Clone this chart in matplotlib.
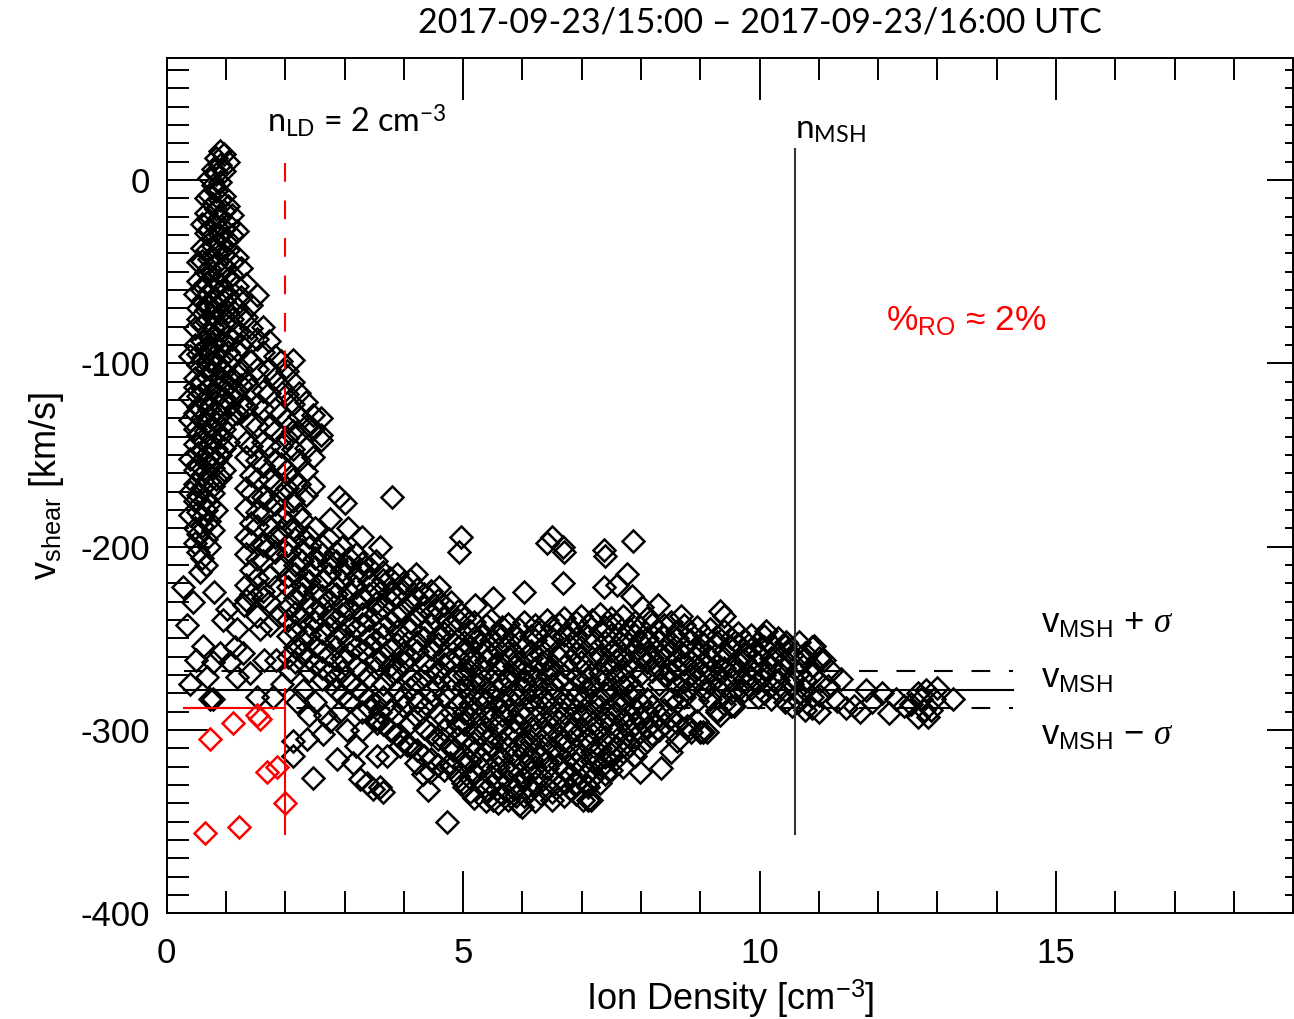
import matplotlib
matplotlib.use("Agg")
import matplotlib.pyplot as plt
from matplotlib.ticker import MultipleLocator

plt.rcParams['font.family'] = ['Liberation Sans', 'DejaVu Sans']
plt.rcParams['mathtext.fontset'] = 'custom'
plt.rcParams['mathtext.rm'] = 'Liberation Sans'
plt.rcParams['mathtext.it'] = 'Liberation Serif:italic'
plt.rcParams['axes.unicode_minus'] = False

# ---- data: (density, [v_shear values]) columns of the dense parts ----
spike_cols = [
    (0.4, [-96, -119, -131, -152, -170, -183]),
    (0.47, [-62, -81, -90, -108, -113, -127, -136, -144, -158, -166, -175, -190, -198]),
    (0.53, [-45, -55, -70, -76, -95, -101, -118, -124, -139, -149, -155, -172, -181, -193, -203]),
    (0.6, [-24, -37, -44, -60, -66, -79, -88, -97, -110, -116, -130, -142, -148, -161, -168, -184, -189, -206]),
    (0.66, [-10, -18, -29, -39, -50, -56, -71, -77, -91, -103, -107, -121, -133, -137, -154, -159, -174, -180, -196, -210]),
    (0.72, [1, -8, -22, -27, -43, -48, -62, -68, -84, -93, -99, -113, -125, -129, -145, -151, -164, -177, -186, -200]),
    (0.78, [6, -3, -13, -32, -36, -53, -59, -74, -80, -89, -105, -111, -120, -135, -141, -157, -167, -171, -191]),
    (0.84, [12, 3, -6, -16, -25, -40, -46, -65, -69, -86, -95, -101, -116, -126, -132, -147, -153, -163, -180]),
    (0.9, [16, 8, -1, -11, -20, -30, -35, -51, -57, -73, -82, -92, -98, -109, -123, -128, -140, -150, -162]),
    (0.96, [14, 5, -9, -17, -27, -41, -47, -61, -66, -78, -89, -104, -114, -119, -136, -146, -158]),
    (1.03, [10, -14, -24, -33, -38, -54, -63, -72, -85, -94, -100, -112, -124, -131, -143]),
    (1.1, [-19, -30, -45, -52, -67, -76, -87, -97, -108, -118, -128]),
    (1.18, [-28, -42, -58, -70, -83, -93, -106, -115, -127]),
    (1.26, [-48, -64, -74, -90, -103, -112, -123]),
]

branch_cols = [
    (1.34, [-57, -75, -86, -110, -124, -143, -151, -168, -179, -195, -204, -221, -229]),
    (1.43, [-68, -81, -99, -114, -133, -145, -161, -171, -187, -197, -213, -226]),
    (1.53, [-63, -87, -103, -123, -134, -153, -163, -181, -189, -207, -217, -238]),
    (1.62, [-80, -94, -115, -125, -143, -156, -173, -182, -199, -208, -224]),
    (1.72, [-88, -103, -116, -135, -145, -163, -174, -189, -200, -216, -230]),
    (1.82, [-96, -108, -125, -137, -153, -166, -177, -195, -203, -222]),
    (1.92, [-99, -113, -127, -145, -155, -172, -184, -192, -210]),
    (2.03, [-104, -117, -131, -141, -159, -168, -181, -199]),
    (2.13, [-98, -110, -122, -137, -147, -163, -175, -190]),
    (2.24, [-116, -129, -138, -153, -166, -182]),
    (2.35, [-121, -134, -146, -159, -172]),
    (2.47, [-128, -136, -151, -167]),
    (2.6, [-130, -142]),
]

band_cols = [
    (2.05, [-187, -199, -204, -216, -222, -233, -240, -249]),
    (2.17, [-191, -196, -210, -215, -228, -236, -246, -255, -263]),
    (2.28, [-185, -202, -208, -221, -226, -239, -251, -258]),
    (2.4, [-195, -200, -214, -219, -231, -243, -248, -261, -268]),
    (2.5, [-190, -206, -211, -224, -235, -241, -254, -264]),
    (2.62, [-199, -204, -218, -227, -233, -247, -257, -266, -272]),
    (2.73, [-196, -209, -215, -229, -238, -244, -259, -269]),
    (2.85, [-203, -208, -222, -226, -240, -250, -255, -271, -278]),
    (2.96, [-200, -213, -219, -232, -237, -247, -261, -268, -281]),
    (3.08, [-206, -211, -225, -234, -243, -252, -258, -274, -284]),
    (3.19, [-204, -216, -222, -230, -245, -255, -265, -277]),
    (3.3, [-209, -214, -228, -237, -242, -257, -268, -280, -290]),
    (3.42, [-211, -219, -226, -240, -249, -254, -271, -283, -288]),
    (3.53, [-208, -223, -231, -236, -251, -262, -266, -286, -294]),
    (3.65, [-214, -218, -233, -244, -248, -260, -275, -282, -297]),
    (3.76, [-217, -225, -229, -241, -256, -265, -270, -289, -300]),
    (3.88, [-215, -227, -238, -246, -253, -268, -279, -292, -303]),
    (3.99, [-220, -224, -235, -249, -258, -263, -282, -287, -306]),
    (4.11, [-218, -230, -241, -245, -260, -271, -277, -296, -309]),
    (4.22, [-223, -228, -238, -252, -257, -274, -285, -293, -311]),
    (4.34, [-226, -233, -246, -250, -263, -270, -288, -299, -314]),
    (4.45, [-224, -236, -243, -256, -266, -279, -284, -302, -316]),
    (4.57, [-229, -234, -249, -253, -269, -276, -291, -305, -319]),
    (4.68, [-232, -239, -247, -259, -264, -281, -294, -300, -322]),
    (4.8, [-230, -242, -251, -262, -272, -278, -290, -308, -320]),
    (4.91, [-235, -240, -255, -260, -270, -286, -297, -304, -325]),
]

core_cols = [
    (5.02, [-239, -252, -258, -270, -276, -291, -297, -305, -314, -319, -331]),
    (5.11, [-246, -255, -263, -268, -281, -286, -293, -309, -317, -326, -334]),
    (5.19, [-241, -250, -261, -274, -279, -288, -301, -307, -312, -323, -337]),
    (5.3, [-248, -253, -266, -271, -283, -296, -302, -315, -321, -329]),
    (5.38, [-243, -257, -262, -277, -285, -290, -299, -311, -318, -333, -339]),
    (5.47, [-240, -251, -259, -269, -280, -294, -304, -308, -325, -330]),
    (5.58, [-247, -256, -264, -273, -278, -287, -298, -313, -320, -327, -340]),
    (5.66, [-244, -249, -267, -275, -284, -292, -300, -306, -316, -335]),
    (5.75, [-242, -254, -260, -272, -282, -289, -303, -310, -322, -328, -338]),
    (5.86, [-248, -258, -265, -270, -286, -295, -301, -314, -319, -332]),
    (5.94, [-245, -252, -263, -276, -281, -291, -297, -308, -324, -330, -341]),
    (6.03, [-241, -255, -268, -274, -288, -293, -305, -312, -318, -327, -336]),
    (6.14, [-249, -257, -261, -279, -284, -299, -306, -316, -323, -333]),
    (6.22, [-243, -251, -266, -271, -287, -294, -302, -311, -320, -329, -339]),
    (6.31, [-246, -259, -264, -277, -282, -290, -308, -314, -325, -335]),
    (6.42, [-240, -253, -262, -270, -285, -296, -303, -317, -321, -331]),
    (6.5, [-244, -250, -267, -275, -280, -292, -299, -310, -326, -334, -338]),
    (6.61, [-242, -256, -260, -273, -288, -295, -304, -313, -319, -330]),
    (6.7, [-239, -248, -265, -270, -283, -291, -306, -309, -322, -328, -336]),
    (6.8, [-245, -254, -262, -278, -286, -297, -301, -315, -324, -332]),
    (6.9, [-241, -250, -258, -271, -281, -289, -303, -311, -318, -329, -335]),
    (6.99, [-238, -255, -263, -274, -284, -293, -300, -314, -320, -327]),
    (7.1, [-243, -249, -268, -272, -279, -290, -305, -308, -323, -331, -338]),
    (7.18, [-240, -253, -261, -276, -285, -296, -302, -312, -317, -326]),
    (7.3, [-237, -246, -259, -269, -282, -287, -299, -310, -321, -329]),
    (7.39, [-244, -252, -264, -273, -280, -294, -304, -315, -318, -324]),
    (7.5, [-239, -248, -257, -267, -278, -289, -296, -307, -313, -322]),
    (7.58, [-242, -255, -262, -271, -284, -291, -301, -309, -316]),
    (7.7, [-238, -250, -259, -268, -276, -286, -295, -305, -312, -320]),
    (7.79, [-245, -253, -263, -274, -281, -292, -300, -308]),
    (7.9, [-241, -248, -257, -266, -279, -288, -297, -304, -314]),
    (7.99, [-244, -252, -260, -270, -285, -293, -301, -310]),
    (8.1, [-239, -250, -258, -263, -283, -290, -299, -306]),
    (8.19, [-242, -255, -261, -268, -287, -296, -302]),
    (8.3, [-246, -251, -259, -266, -275, -292, -300]),
    (8.39, [-243, -249, -257, -270, -289, -297]),
]

upper_cols = [
    (8.5, [-241, -252, -257, -268, -273, -283, -293, -300]),
    (8.61, [-246, -250, -261, -266, -276, -285, -296]),
    (8.73, [-243, -255, -259, -264, -274, -289]),
    (8.83, [-247, -251, -262, -270, -277, -299]),
    (8.95, [-244, -254, -258, -267, -272, -284, -295]),
    (9.06, [-248, -253, -263, -269, -278]),
    (9.17, [-245, -256, -260, -268, -275, -283]),
    (9.29, [-249, -252, -264, -271, -277, -290]),
    (9.4, [-246, -257, -261, -266, -276, -286]),
    (9.51, [-250, -255, -265, -272, -280]),
    (9.63, [-247, -253, -263, -268, -278]),
    (9.74, [-251, -258, -262, -273, -279]),
    (9.85, [-248, -256, -266, -271, -277]),
    (9.97, [-252, -259, -264, -274, -282]),
    (10.08, [-249, -255, -267, -270, -280]),
    (10.2, [-253, -261, -265, -276, -283]),
    (10.31, [-250, -258, -268, -273, -279]),
    (10.43, [-254, -262, -266, -278, -285]),
    (10.54, [-256, -259, -271, -275, -287]),
    (10.66, [-252, -263, -269, -280, -284]),
    (10.77, [-258, -261, -273, -278, -289]),
    (10.89, [-255, -265, -270, -282, -288]),
    (11.01, [-261, -274, -281, -290]),
]

# loose points (density, v_shear)
left_x = [0.27, 0.56, 0.34, 0.61, 0.9, 0.78, 0.68, 1.18, 1.01, 1.57, 1.74, 1.28, 1.4, 1.18, 1.79,
          1.52, 0.73, 1.07, 1.15, 0.45, 0.8, 0.95, 1.3, 1.62, 1.9, 1.85, 0.5, 0.4, 1.65, 1.95, 0.78]
left_y = [-222, -214, -243, -254, -258, -263, -271, -245, -234, -245, -243, -258, -269, -271, -282,
          -282, -283, -263, -255, -230, -225, -240, -232, -228, -238, -262, -262, -275, -262, -275, -283]

low_x = [2.13, 2.13, 2.36, 2.47, 2.63, 2.75, 2.67, 2.2, 2.3, 2.08, 2.05, 2.87, 3.04, 3.2, 3.14, 3.26,
         3.38, 3.48, 3.6, 3.65, 3.55, 3.72, 3.94, 4.05, 3.55, 3.6, 4.32, 4.41, 4.73, 4.66, 4.83, 4.78,
         5.0, 4.44, 2.5, 2.9, 3.3, 4.2, 2.4, 5.5, 5.9, 6.0, 7.03, 7.15, 7.09, 8.33, 7.99, 8.5, 8.78,
         9.0, 9.12, 9.29, 9.51, 8.72, 9.56, 9.34, 8.84, 9.05, 8.6]
low_y = [-306, -314, -305, -326, -302, -295, -292, -285, -278, -268, -260, -316, -300, -309, -318, -327,
         -329, -332, -331, -334, -314, -314, -309, -308, -296, -290, -324, -333, -350, -305, -311, -318,
         -329, -323, -285, -290, -300, -318, -292, -338, -336, -342, -338, -338, -330, -321, -323, -312, -298,
         -301, -301, -289, -287, -282, -287, -292, -301, -301, -306]

high_x = [2.6, 2.9, 3.0, 3.8, 3.3, 3.6, 4.2, 4.6, 4.97, 4.93, 5.2, 5.5, 6.03, 6.42, 6.5, 6.69, 6.7,
          6.69, 7.37, 7.4, 7.37, 7.6, 7.77, 7.87, 7.84, 8.02, 8.28, 8.67, 9.34, 9.4, 10.1, 10.44,
          10.91, 3.05, 2.75]
high_y = [-139, -173, -176, -173, -195, -200, -215, -222, -195, -203, -232, -228, -225, -198, -195, -200, -203,
          -220, -202, -205, -222, -221, -215, -197, -227, -233, -232, -238, -235, -238, -246, -252,
          -254, -190, -185]

tail_x = [11.08, 11.2, 11.37, 11.3, 11.45, 11.6, 11.7, 11.8, 12.07, 12.18, 12.43, 12.67, 12.72, 12.77,
          12.84, 12.67, 13.0, 12.94, 12.89, 13.26, 11.9, 12.3, 11.15, 12.55, 12.8]
tail_y = [-262, -268, -272, -284, -288, -287, -290, -278, -280, -291, -287, -280, -283, -289,
          -293, -293, -277, -283, -289, -283, -285, -283, -276, -286, -278]

# points below v_MSH - sigma with n < n_LD
red_x = [0.73, 1.12, 1.52, 1.57, 1.7, 1.86, 1.99, 0.64, 1.22]
red_y = [-305, -296, -292, -294, -323, -320, -340, -356, -353]

v_msh = -278
sigma = 10
n_ld = 2
n_msh = 10.6


def flatten(cols):
    xs, ys = [], []
    for x, col in cols:
        xs += [x] * len(col)
        ys += col
    return xs, ys


fig = plt.figure(figsize=(12.94, 10.19), dpi=100)
ax = fig.add_axes([0.1288, 0.1037, 0.8706, 0.8394])

mk = dict(linestyle='none', marker='D', markersize=10.8, mfc='none', mew=1.8)
for cols in [spike_cols, branch_cols, band_cols, core_cols, upper_cols]:
    xs, ys = flatten(cols)
    ax.plot(xs, ys, mec='black', **mk)
for xs, ys in [(left_x, left_y), (low_x, low_y), (high_x, high_y), (tail_x, tail_y)]:
    ax.plot(xs, ys, mec='black', **mk)
ax.plot(red_x, red_y, mec='red', **mk)

# reference lines
dash = (9, 9)
ax.plot([0.3, 14.27], [v_msh, v_msh], color='black', lw=1.5, zorder=5)
ax.plot([0.3, 14.27], [v_msh + sigma] * 2, color='black', lw=1.5, dashes=dash, zorder=5)
ax.plot([0.3, 14.27], [v_msh - sigma] * 2, color='black', lw=1.5, dashes=dash, zorder=5)
ax.plot([n_msh, n_msh], [17, -357], color='#333333', lw=1.5, zorder=5)
ax.plot([n_ld, n_ld], [9, v_msh - sigma], color='red', lw=1.5, dashes=dash, zorder=6)
ax.plot([n_ld, n_ld], [v_msh - sigma, -357], color='red', lw=1.5, zorder=6)
ax.plot([0.3, n_ld], [v_msh - sigma] * 2, color='red', lw=1.5, zorder=6)

ax.set_xlim(0, 19)
ax.set_ylim(-400, 66.5)
ax.xaxis.set_major_locator(MultipleLocator(5))
ax.xaxis.set_minor_locator(MultipleLocator(1))
ax.yaxis.set_major_locator(MultipleLocator(100))
ax.yaxis.set_minor_locator(MultipleLocator(10))
ax.tick_params(which='both', direction='in', width=1.4, top=True, right=False, labelsize=25)
ax.tick_params(axis='y', pad=12)
ax.tick_params(axis='x', pad=17)
ax.tick_params(which='major', length=30)
ax.tick_params(which='minor', length=15.5)
for s in ax.spines.values():
    s.set_linewidth(1.4)

# right axis has short ticks
ax2 = ax.secondary_yaxis('right')
ax2.yaxis.set_major_locator(MultipleLocator(100))
ax2.yaxis.set_minor_locator(MultipleLocator(10))
ax2.tick_params(which='both', direction='in', width=1.4, labelright=False)
ax2.tick_params(which='major', length=19)
ax2.tick_params(which='minor', length=6)

ax.set_xlabel('Ion Density [cm$^{\\mathdefault{-3}}$]', fontsize=26, labelpad=6)
ax.set_ylabel('v$_{\\mathdefault{shear}}$ [km/s]', fontsize=26, labelpad=10)

fig.text(0.587, 0.978, '2017-09-23/15:00 \u2013 2017-09-23/16:00 UTC', family='Lato',
         fontsize=24.5, ha='center', va='center')

ax.text(1.69, 26, 'n$_{\\mathdefault{LD}}$ = 2 cm$^{\\mathdefault{-3}}$', family='Lato',
        fontsize=23.3, ha='left', va='baseline')
ax.text(10.6, 23, 'n$_{\\mathdefault{MSH}}$', family='Lato', fontsize=24, ha='left', va='baseline')
ax.text(12.13, -77, '%$_{\\mathdefault{RO}}$ \u2248 2%', color='red', fontsize=25.5,
        ha='left', va='center')
ax.text(14.75, -242, 'v$_{\\mathdefault{MSH}}$ + $\\sigma$', fontsize=25, ha='left', va='center')
ax.text(14.75, -272, 'v$_{\\mathdefault{MSH}}$', fontsize=25, ha='left', va='center')
ax.text(14.75, -303, 'v$_{\\mathdefault{MSH}}$ \u2212 $\\sigma$', fontsize=25, ha='left', va='center')

fig.savefig('out.png', dpi=100)
